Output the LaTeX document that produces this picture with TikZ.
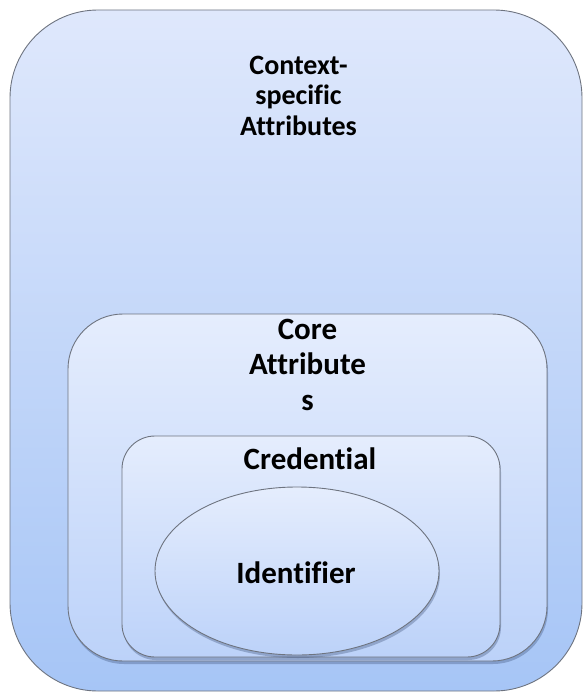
\documentclass[tikz,border=0pt]{standalone}
\usepackage{fontspec}
\setmainfont{Carlito}[Ligatures=NoCommon]
\usetikzlibrary{shadows,shapes.geometric}

\definecolor{edge}{RGB}{110,116,128}
\definecolor{outertop}{RGB}{223,232,252}
\definecolor{outerbot}{RGB}{166,197,246}
\definecolor{innertop}{RGB}{229,237,253}
\definecolor{innerbot}{RGB}{188,210,249}
\definecolor{shade}{RGB}{60,80,120}

\tikzset{
  layer/.style={draw=edge, line width=0.9pt, top color=#1top, bottom color=#1bot,
    inner sep=0pt, outer sep=0pt},
  inset/.style={layer=inner, drop shadow={shadow xshift=1pt, shadow yshift=-3pt,
    opacity=0.35, fill=shade}},
  lbl/.style={font=\bfseries\fontsize{31}{35.5}\selectfont, align=center, inner sep=0pt},
  toplbl/.style={font=\bfseries\fontsize{28}{30.5}\selectfont, align=center, inner sep=0pt}
}

\begin{document}
\begin{tikzpicture}[x=1pt, y=-1pt]
  \useasboundingbox (0,0) rectangle (584,693);

  % nested layers, outermost first
  \node[layer=outer, rounded corners=88pt, minimum width=572pt, minimum height=681pt]
    (context) at (296,350.5) {};
  \node[inset, rounded corners=55pt, minimum width=479pt, minimum height=347pt]
    (core) at (307.5,487.5) {};
  \node[inset, rounded corners=33pt, minimum width=378pt, minimum height=221pt]
    (credential) at (311,546.5) {};
  \node[inset, ellipse, minimum width=284pt, minimum height=168pt]
    (identifier) at (297,571) {};

  % layer captions
  \node[toplbl] (contextlbl) at (298.5,95.5) {Context-\\specific\\Attributes};
  \node[lbl] (corelbl) at (307.5,364.5) {Core\\Attribute\\s};
  \node[lbl] (credlbl) at (310,459) {Credential};
  \node[lbl] (idlbl) at (296,573) {Identifier};
\end{tikzpicture}
\end{document}
